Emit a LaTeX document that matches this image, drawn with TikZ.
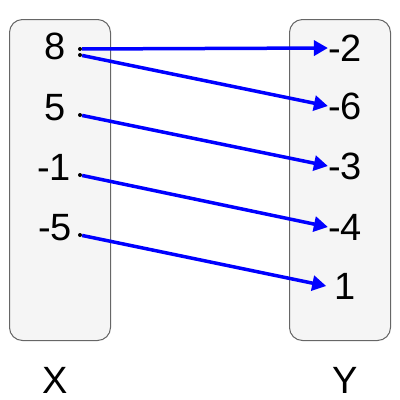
\documentclass[tikz,border=0pt]{standalone}
\usepackage{fontspec}
\setmainfont{Liberation Sans}
\usepackage{tikz}
\usetikzlibrary{arrows.meta}
\definecolor{boxfill}{RGB}{245,245,245}
\definecolor{boxline}{RGB}{102,102,102}
\tikzset{
    set-box/.style = {draw=boxline, fill=boxfill, line width=1pt, rectangle, rounded corners=13pt, minimum width=101pt, minimum height=321pt},
    set-label/.style = {font=\fontsize{38}{40}\selectfont, inner sep=0pt},
    map-dot/.style = {circle, fill=black, inner sep=0pt, minimum size=4pt},
    map-arrow/.style = {draw=blue, line width=3.5pt, -{Triangle[length=14pt,width=15pt]}},
}

\begin{document}
\begin{tikzpicture}[x=1pt,y=-1pt]
\useasboundingbox (0,0) rectangle (400,400);
\node [set-box] (setx) at (60,180) {};
\node [set-box] (sety) at (340,180) {};
% domain
\node [set-label] (x8) at (55,46) {8};
\node [set-label] (x5) at (55,108) {5};
\node [set-label] (xm1) at (54,167) {-1};
\node [set-label] (xm5) at (55,228) {-5};
% codomain
\node [set-label] (ym2) at (345,48) {-2};
\node [set-label] (ym6) at (345,106) {-6};
\node [set-label] (ym3) at (345,166) {-3};
\node [set-label] (ym4) at (345,227) {-4};
\node [set-label] (y1) at (345,286) {1};
\node [set-label] (labx) at (55,380) {X};
\node [set-label] (laby) at (345,380) {Y};
% dots
\node [map-dot] (d8a) at (80,49) {};
\node [map-dot] (d8b) at (80,55) {};
\node [map-dot] (d5) at (80,115) {};
\node [map-dot] (dm1) at (80,175) {};
\node [map-dot] (dm5) at (80,235) {};
\draw [map-arrow] (d8a) -- (ym2.west);
\draw [map-arrow] (d8b) -- (ym6.west);
\draw [map-arrow] (d5) -- (ym3.west);
\draw [map-arrow] (dm1) -- (ym4.west);
\draw [map-arrow] (dm5) -- ([xshift=-8pt]y1.west);
\end{tikzpicture}
\end{document}
